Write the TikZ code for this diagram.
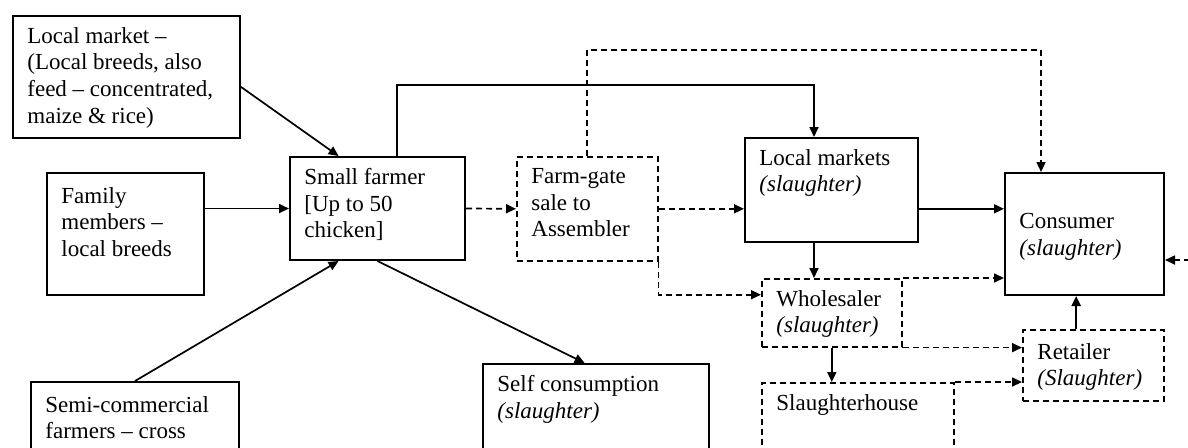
\documentclass[tikz,border=0pt]{standalone}
\usepackage{fontspec}
\setmainfont{Liberation Serif}
\usetikzlibrary{positioning, calc, arrows.meta}

\begin{document}
\begin{tikzpicture}[x=0.5pt, y=-0.5pt]
\tikzset{stage/.style={
    rectangle, draw=black, line width=1pt, anchor=north west, inner sep=0pt},
    dstage/.style={
    stage, line width=0.8pt, dash pattern=on 3pt off 2pt},
    txt/.style={
    anchor=north west, align=left, inner xsep=7.5pt, inner ysep=6pt, font=\fontsize{11.5}{13.3}\selectfont},
    flow/.style={
    line width=0.85pt, -{Triangle[length=5pt,width=4.5pt]}},
    dflow/.style={
    flow, dash pattern=on 3pt off 2pt}
}

    \useasboundingbox (0,0) rectangle (1188,447);
    \clip (0,0) rectangle (1188,447);

    % box corners
    \coordinate (c_locmkt) at (12,15);
    \coordinate (c_family) at (46,172);
    \coordinate (c_semi) at (30,381);
    \coordinate (c_farmer) at (289,156);
    \coordinate (c_gate) at (516,156);
    \coordinate (c_self) at (482,363);
    \coordinate (c_lmkt) at (744,137);
    \coordinate (c_whole) at (761,278);
    \coordinate (c_slh) at (761,382);
    \coordinate (c_cons) at (1004,172);
    \coordinate (c_ret) at (1022,329);

    \path (c_locmkt) node[stage, minimum width=113.5pt, minimum height=61pt,
        label={[txt]north west:{Local market –\\(Local breeds, also\\feed – concentrated,\\maize \& rice)}}] (locmkt) {};
    \path (c_family) node[stage, minimum width=78.5pt, minimum height=61pt,
        label={[txt, inner ysep=7.5pt]north west:{Family\\members –\\local breeds}}] (family) {};
    \path (c_semi) node[stage, minimum width=104pt, minimum height=60pt,
        label={[txt, inner ysep=7.5pt]north west:{Semi-commercial\\farmers – cross}}] (semi) {};
    \path (c_farmer) node[stage, minimum width=87.5pt, minimum height=51.5pt,
        label={[txt]north west:{Small farmer\\{[}Up to 50\\chicken{]}}}] (farmer) {};
    \path (c_gate) node[dstage, minimum width=70.5pt, minimum height=52pt,
        label={[txt]north west:{Farm-gate\\sale to\\Assembler}}] (gate) {};
    \path (c_self) node[stage, minimum width=113pt, minimum height=60pt,
        label={[txt]north west:{Self consumption\\\textit{(slaughter)}}}] (self) {};
    \path (c_lmkt) node[stage, minimum width=86.5pt, minimum height=52pt,
        label={[txt]north west:{Local markets\\\textit{(slaughter)}}}] (lmkt) {};
    \path (c_whole) node[dstage, minimum width=70pt, minimum height=34pt,
        label={[txt]north west:{Wholesaler\\\textit{(slaughter)}}}] (whole) {};
    \path (c_slh) node[dstage, minimum width=96pt, minimum height=60pt,
        label={[txt]north west:{Slaughterhouse}}] (slh) {};
    \path (c_cons) node[stage, minimum width=79.5pt, minimum height=61pt,
        label={[txt, inner ysep=20.5pt]north west:{Consumer\\\textit{(slaughter)}}}] (cons) {};
    \path (c_ret) node[dstage, minimum width=70.5pt, minimum height=35.5pt,
        label={[txt, inner ysep=7pt]north west:{Retailer\\\textit{(Slaughter)}}}] (ret) {};

    % points on the edges
    \coordinate (lm_out) at ($(locmkt.north east)!0.58!(locmkt.south east)$);
    \coordinate (f_in1) at ($(farmer.north west)!0.28!(farmer.north east)$);
    \coordinate (f_in2) at ($(farmer.south west)!0.28!(farmer.south east)$);
    \coordinate (f_up) at ($(farmer.north west)!0.61!(farmer.north east)$);
    \coordinate (s_in) at ($(self.north west)!0.45!(self.north east)$);
    \coordinate (l_top) at ($(lmkt.north west)!0.4!(lmkt.north east)$);
    \coordinate (l_bot) at ($(lmkt.south west)!0.4!(lmkt.south east)$);
    \coordinate (c_top) at ($(cons.north west)!0.23!(cons.north east)$);
    \coordinate (w_in) at ($(whole.north west)!0.24!(whole.south west)$);
    \coordinate (r_up) at ($(ret.north west)!0.38!(ret.north east)$);
    \coordinate (run1) at (0,85);
    \coordinate (run2) at (0,50);
    \coordinate (feed) at (1190,260);

    \draw[flow] (lm_out) -- (f_in1);
    \draw[flow] (family.east |- farmer.west) -- (farmer.west);
    \draw[flow] (semi.north) -- (f_in2);
    \draw[flow] (farmer.south) -- (s_in);
    \draw[dflow] (farmer.east) -- (gate.west);
    \draw[flow] (f_up) -- (f_up |- run1) -| (l_top);
    \draw[dflow] (gate.north) -- (gate.north |- run2) -| (c_top);
    \draw[dflow] (gate.east) -- (gate.east -| lmkt.west);
    \draw[dflow] (gate.south east) |- (w_in);
    \draw[flow] (gate.east -| lmkt.east) -- (gate.east -| cons.west);
    \draw[flow] (l_bot) -- (l_bot |- whole.north);
    \draw[dflow] (whole.north east) -- (whole.north east -| cons.west);
    \draw[dflow] (whole.south east) -- (whole.south east -| ret.west);
    \draw[flow] (whole.south) -- (whole.south |- slh.north);
    \draw[dflow] (slh.north east) -- (slh.north east -| ret.west);
    \draw[flow, line width=1.1pt] (r_up) -- (r_up |- cons.south);
    \draw[dflow] (feed) -- (feed -| cons.east);

\end{tikzpicture}
\end{document}
